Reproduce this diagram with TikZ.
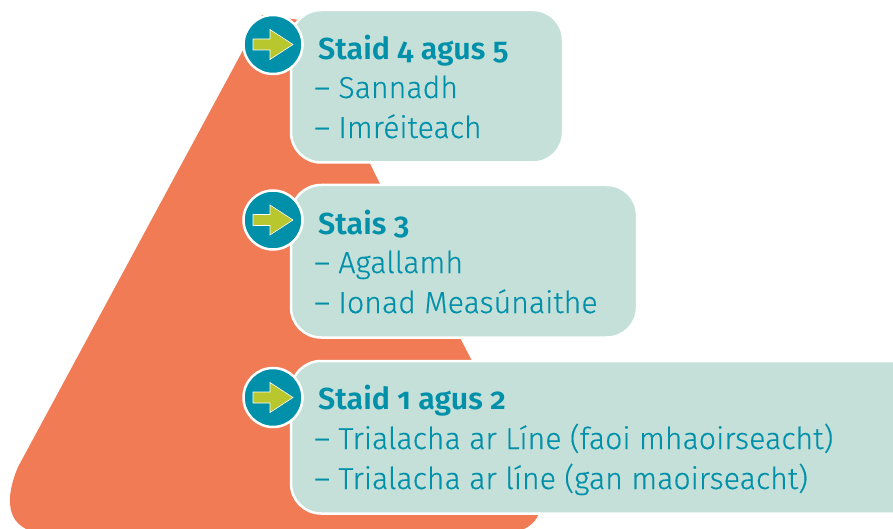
\documentclass[tikz,border=0pt]{standalone}
\usepackage{fontspec}
\setmainfont[Numbers=OldStyle,FakeBold=0.35]{Fira Sans Light}[BoldFont={Fira Sans SemiBold},BoldFeatures={FakeBold=0}]
\definecolor{orangeT}{HTML}{F07B55}
\definecolor{mintB}{HTML}{C5E0D9}
\definecolor{tealC}{HTML}{0090A9}
\definecolor{limeA}{HTML}{B9C72F}
\tikzset{
  stagebox/.style={draw=white,line width=2.5pt,fill=mintB,rounded corners=30pt,anchor=north west,inner sep=0pt,outer sep=0pt},
  badge/.style={circle,draw=white,line width=2.5pt,fill=tealC,minimum size=59pt,inner sep=0pt,outer sep=0pt},
  head/.style={anchor=base west,inner sep=0pt,text=tealC,font=\fontsize{30.4}{30}\selectfont\bfseries},
  item/.style={anchor=base west,inner sep=0pt,text=tealC,font=\fontsize{30.3}{30}\selectfont},
  pointer/.style={fill=limeA,draw=white,line width=.6pt,line join=miter}
}
\newcommand{\arrowat}[1]{\draw[pointer] ([shift={(-20,-5.5)}]#1.center) -- ++(17,0) -- ++(0,-9.5) -- ++(23,15) -- ++(-23,15) -- ++(0,-9.5) -- ++(-17,0) -- cycle;}
\begin{document}
\begin{tikzpicture}[x=1pt,y=-1pt]
\useasboundingbox (0,0) rectangle (893,529);
\clip (0,0) rectangle (893,529);
\fill[orangeT] (262,15) -- (300,20) -- (378,180) -- (471,359) -- (536,490)
  .. controls (546,512) and (536,529) .. (510,533) -- (40,533)
  .. controls (10,529) and (2,505) .. (18,467) -- cycle;
\node[stagebox,minimum width=272pt,minimum height=152.5pt] (b1) at (291,10) {};
\node[stagebox,minimum width=346pt,minimum height=152.5pt] (b2) at (291,185) {};
\node[stagebox,minimum width=640pt,minimum height=152.5pt] (b3) at (291,361) {};
\node[badge] (c1) at (273,44.5) {};
\node[badge] (c2) at (273,220) {};
\node[badge] (c3) at (273,397.5) {};
\arrowat{c1}\arrowat{c2}\arrowat{c3}
\node[head] (h1) at (318,60) {Staid 4 agus 5};
\node[item] (t11) at (314,98) {– Sannadh};
\node[item] (t12) at (314,138) {– Imréiteach};
\node[head] (h2) at (318,234) {Stais 3};
\node[item] (t21) at (314,273) {– Agallamh};
\node[item] (t22) at (314,313) {– Ionad Measúnaithe};
\node[head] (h3) at (318,409) {Staid 1 agus 2};
\node[item] (t31) at (314,449) {– Trialacha ar Líne (faoi mhaoirseacht)};
\node[item] (t32) at (314,489) {– Trialacha ar líne (gan maoirseacht)};
\end{tikzpicture}
\end{document}
